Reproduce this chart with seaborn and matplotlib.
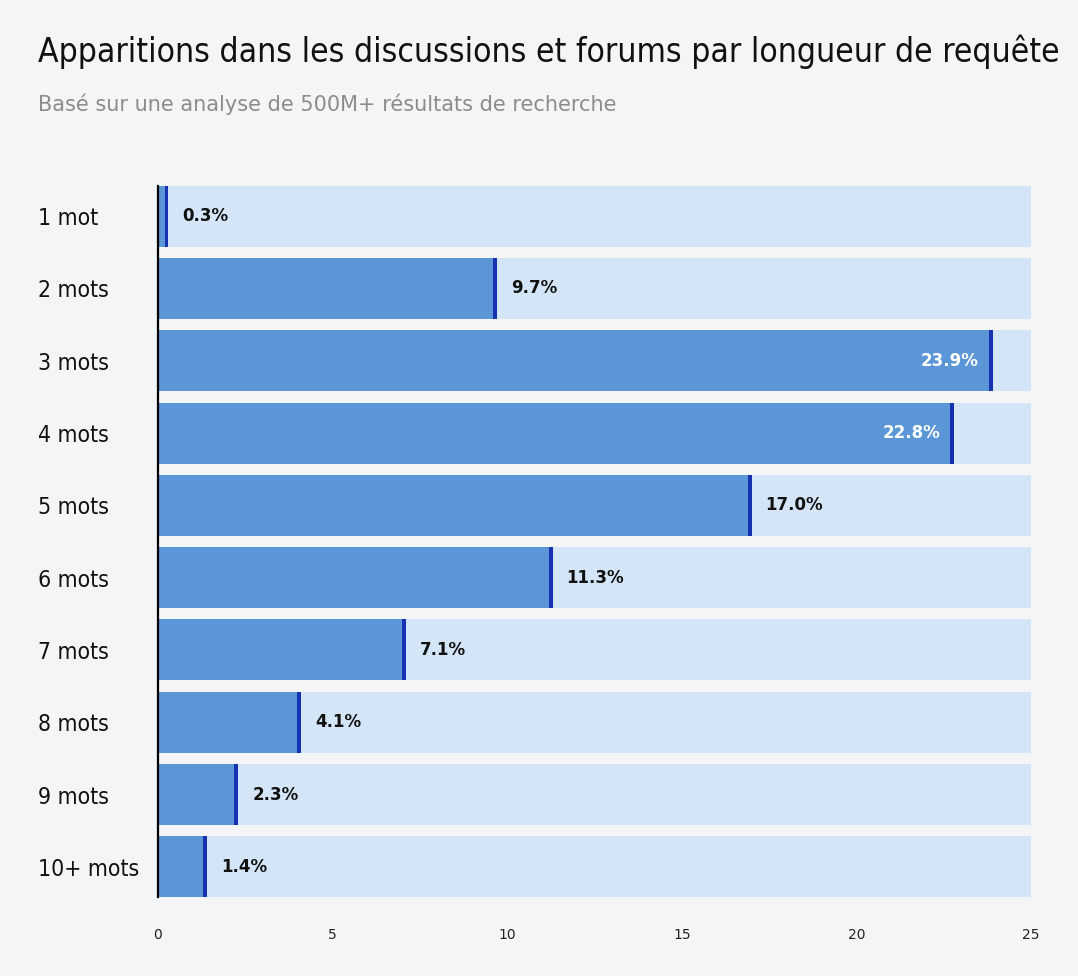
import matplotlib
matplotlib.use('Agg')
import matplotlib.pyplot as plt
import seaborn as sns
import pandas as pd

categories = ["1 mot", "2 mots", "3 mots", "4 mots", "5 mots",
              "6 mots", "7 mots", "8 mots", "9 mots", "10+ mots"]
shares = [0.3, 9.7, 23.9, 22.8, 17.0, 11.3, 7.1, 4.1, 2.3, 1.4]
x_ticks = [0, 5, 10, 15, 20, 25]
x_max = 25

title = "Apparitions dans les discussions et forums par longueur de requête"
subtitle = "Basé sur une analyse de 500M+ résultats de recherche"

bg_color = "#f4f5f7"
track_color = "#d3e5f6"
bar_color = "#5b97d6"
edge_color = "#1631b2"

sns.set_theme(style="white")
plt.rcParams['font.family'] = ['DejaVu Sans']

df = pd.DataFrame({"cat": categories, "share": shares, "track": [x_max] * len(categories)})

fig = plt.figure(figsize=(10.78, 9.76), dpi=100, facecolor=bg_color)
ax = fig.add_axes([158 / 1078, 1 - 903 / 976, 873 / 1078, 723 / 976])
ax.set_facecolor(bg_color)

sns.barplot(data=df, y="cat", x="track", order=categories, color=track_color,
            width=0.845, saturation=1, linewidth=0, ax=ax, zorder=1)
sns.barplot(data=df, y="cat", x="share", order=categories, color=bar_color,
            width=0.845, saturation=1, linewidth=0, ax=ax, zorder=2)

# thin dark marker at the end of each bar
mark_w = 0.11
for i, v in enumerate(shares):
    ax.barh(i, mark_w, left=v - mark_w, height=0.845, color=edge_color,
            linewidth=0, zorder=3)
    if v > 20:
        ax.text(v - 0.4, i, f"{v:.1f}%", ha='right', va='center', color='white',
                fontsize=12, fontweight='bold', zorder=4)
    else:
        ax.text(v + 0.4, i, f"{v:.1f}%", ha='left', va='center', color='#111111',
                fontsize=12, fontweight='bold', zorder=4)

ax.set_xlim(0, x_max)
ax.set_ylim(len(categories) - 0.5, -0.5)
ax.set_xticks(x_ticks)
ax.set_xticklabels([str(t) for t in x_ticks], fontsize=10, color='#222222')
ax.tick_params(axis='x', length=0, pad=18)
ax.tick_params(axis='y', length=0, pad=86.4)
for lab in ax.get_yticklabels():
    lab.set_horizontalalignment('left')
    lab.set_fontsize(16.5)
    lab.set_color('#111111')
    lab.set_fontstretch('condensed')
ax.set_xlabel("")
ax.set_ylabel("")

for side in ['top', 'right', 'bottom']:
    ax.spines[side].set_visible(False)
ax.spines['left'].set_color('black')
ax.spines['left'].set_linewidth(1.6)
ax.spines['left'].set_bounds(-0.4225, len(categories) - 1 + 0.4225)
ax.spines['left'].set_zorder(5)

fig.text(38 / 1078, 1 - 52 / 976, title, fontsize=24.1, color='#111111',
         va='center', ha='left', fontstretch='condensed', fontweight='medium')
fig.text(38 / 1078, 1 - 104 / 976, subtitle, fontsize=15, color='#8c8c8c',
         va='center', ha='left')

fig.savefig("out.png", dpi=100, facecolor=bg_color)
plt.close(fig)
